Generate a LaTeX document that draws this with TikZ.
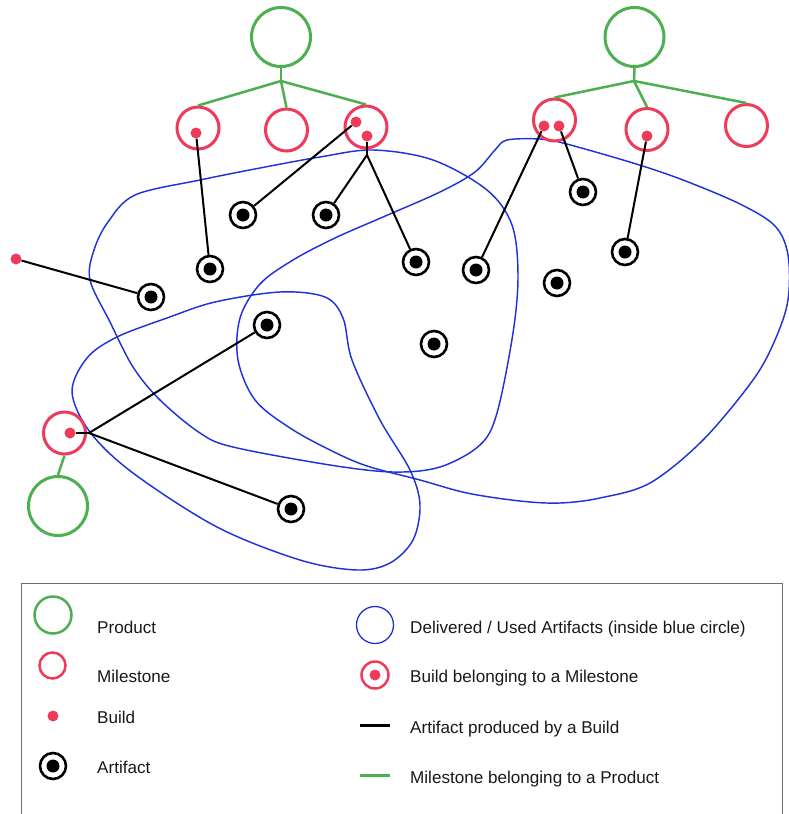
\documentclass[tikz,border=0pt]{standalone}
\usepackage{fontspec}
\setmainfont{Liberation Sans}
\definecolor{cred}{RGB}{240,58,90}
\definecolor{cgreen}{RGB}{76,175,80}
\definecolor{cblue}{RGB}{30,50,215}
\definecolor{cframe}{RGB}{110,110,110}
\definecolor{ctext}{RGB}{25,25,25}
\begin{document}
\begin{tikzpicture}[x=1pt,y=-1pt,
  product/.style={circle,draw=cgreen,line width=3pt,minimum size=59pt,inner sep=0pt},
  milestone/.style={circle,draw=cred,line width=3pt,minimum size=42pt,inner sep=0pt},
  build/.style={circle,fill=cred,minimum size=11pt,inner sep=0pt},
  artifact/.style={circle,draw=black,line width=2.6pt,minimum size=26pt,inner sep=0pt,
    path picture={\fill[black] (path picture bounding box.center) circle (6.5pt);}},
  prodline/.style={draw=cgreen,line width=2.5pt},
  artline/.style={draw=black,line width=2pt},
  blob/.style={draw=cblue,line width=1.45pt},
  legtext/.style={anchor=base west,inner sep=0pt,text=ctext,font=\fontsize{17.1}{20}\selectfont}
]
\useasboundingbox (0,0) rectangle (788,814);

% blue delivered/used areas
\draw[blob] plot[smooth cycle,tension=0.55] coordinates {
 (260,168) (320,157) (373,150) (433,160) (487,190) (512,225) (518,275) (513,333)
 (497,413) (480,445) (440,467) (393,472) (330,465) (233,447) (200,433) (160,400)
 (133,367) (110,322) (90,280) (94,250) (108,222) (135,195) (200,180)};
\draw[blob] plot[smooth cycle,tension=0.55] coordinates {
 (507,140) (540,139) (563,143) (633,163) (683,180) (740,204) (775,226) (788,255)
 (788,300) (775,340) (753,380) (703,440) (650,483) (600,498) (560,503) (520,501)
 (467,493) (420,480) (367,466) (330,450) (290,428) (255,400) (238,360) (240,318)
 (260,284) (293,260) (335,238) (383,217) (440,192) (475,172) (495,150)};
\draw[blob] plot[smooth cycle,tension=0.55] coordinates {
 (280,292) (325,297) (343,318) (352,360) (380,420) (410,470) (420,505) (413,540)
 (390,563) (357,570) (300,560) (217,527) (133,473) (90,432) (72,392) (87,358)
 (117,337) (167,318) (215,302)};

% products
\node[product] (p1) at (281,37) {};
\node[product] (p2) at (634.5,37) {};
\node[product] (p3) at (58,506) {};

% milestones
\node[milestone] (m1) at (198,128) {};
\node[milestone] (m2) at (286.5,130) {};
\node[milestone] (m3) at (366,127) {};
\node[milestone] (m4) at (554.5,120) {};
\node[milestone] (m5) at (647,129.5) {};
\node[milestone] (m6) at (746.5,125.5) {};
\node[milestone] (m7) at (64.5,433) {};

% builds
\node[build] (b1) at (196,133) {};
\node[build] (b2) at (356,122) {};
\node[build] (b3) at (367,136) {};
\node[build] (b4) at (544,126) {};
\node[build] (b5) at (559,126) {};
\node[build] (b6) at (647,136) {};
\node[build] (b7) at (70,433) {};
\node[build] (b8) at (16,259) {};

% artifacts
\node[artifact] (a1) at (243,215) {};
\node[artifact] (a2) at (326,215) {};
\node[artifact] (a3) at (210,269) {};
\node[artifact] (a4) at (416,262) {};
\node[artifact] (a5) at (476,270) {};
\node[artifact] (a6) at (583,192) {};
\node[artifact] (a7) at (625,252) {};
\node[artifact] (a8) at (557,283) {};
\node[artifact] (a9) at (434,344) {};
\node[artifact] (a10) at (151,297) {};
\node[artifact] (a11) at (267,325) {};
\node[artifact] (a12) at (291,509) {};

% milestone -> product
\coordinate (j1) at (281,81);
\coordinate (j2) at (634,81);
\draw[prodline] (p1.south) -- (j1);
\draw[prodline] (j1) -- (m1.north);
\draw[prodline] (j1) -- (m2.north);
\draw[prodline] (j1) -- (m3.north);
\draw[prodline] (p2.south) -- (j2);
\draw[prodline] (j2) -- (m4.north);
\draw[prodline] (j2) -- (m5.north);
\draw[prodline] (j2) -- (m6.north);
\draw[prodline] (m7.south) -- (p3.north);

% artifact produced by build
\coordinate (j3) at (367,155);
\coordinate (j4) at (89,433);
\draw[artline] (b1) -- (a3);
\draw[artline] (b2) -- (a1);
\draw[artline] (b3) -- (j3);
\draw[artline] (j3) -- (a2);
\draw[artline] (j3) -- (a4);
\draw[artline] (b4) -- (a5);
\draw[artline] (b5) -- (a6);
\draw[artline] (b6) -- (a7);
\draw[artline] (b8) -- (a10);
\draw[artline] (b7) -- (j4);
\draw[artline] (j4) -- (a11);
\draw[artline] (j4) -- (a12);

% legend
\draw[cframe,line width=1pt] (21,820) -- (21,583) -- (782,583) -- (782,820);
\node[product,line width=2.5pt,minimum size=37pt] (lp) at (53,615) {};
\node[milestone,line width=2.5pt,minimum size=26pt] (lm) at (52.5,665.5) {};
\node[build] (lb) at (53,716) {};
\node[artifact] (la) at (53,766) {};
\node[circle,draw=cblue,line width=1.3pt,minimum size=37pt,inner sep=0pt] (lu) at (375,625) {};
\node[milestone,line width=2.5pt,minimum size=27pt] (lbm) at (375,675) {};
\node[build] (lbb) at (375,675) {};
\coordinate (lk1) at (360,725);
\coordinate (lk2) at (390,725);
\coordinate (lg1) at (360,775);
\coordinate (lg2) at (390,775);
\draw[black,line width=3pt] (lk1) -- (lk2);
\draw[cgreen,line width=3pt] (lg1) -- (lg2);

\node[legtext] (tp) at (97,633) {Product};
\node[legtext] (tm) at (97,682) {Milestone};
\node[legtext] (tb) at (97,723) {Build};
\node[legtext] (ta) at (97,773) {Artifact};
\node[legtext] (tu) at (410,633) {Delivered / Used Artifacts (inside blue circle)};
\node[legtext] (tbm) at (410,682) {Build belonging to a Milestone};
\node[legtext] (tk) at (410,733) {Artifact produced by a Build};
\node[legtext] (tg) at (410,783) {Milestone belonging to a Product};
\end{tikzpicture}
\end{document}
